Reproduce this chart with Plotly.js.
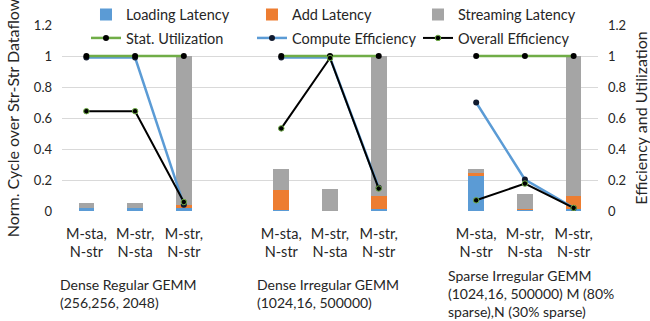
<!DOCTYPE html>
<html>
<head>
<meta charset="utf-8">
<script src="https://cdn.plot.ly/plotly-3.0.1.min.js"></script>
<style>html,body{margin:0;padding:0;background:#fff;}#chart{width:650px;height:321px;}</style>
</head>
<body>
<div id="chart"></div>
<script>
// ---- data ----
var groups = [
  'Dense Regular GEMM<br>(256,256, 2048)',
  'Dense Irregular GEMM<br>(1024,16, 500000)',
  'Sparse Irregular GEMM<br>(1024,16, 500000) M (80%<br>sparse),N (30% sparse)'
];
var configs = ['M-sta,<br>N-str', 'M-str,<br>N-sta', 'M-str,<br>N-str'];

var loadingLatency   = [0.022, 0.022, 0.02,  0.005, 0.0,  0.015, 0.226, 0.007, 0.01];
var addLatency       = [0.0,   0.0,   0.018, 0.13,  0.0,  0.08,  0.022, 0.006, 0.087];
var streamingLatency = [0.032, 0.032, 0.962, 0.135, 0.14, 0.905, 0.026, 0.099, 0.903];

var statUtilization   = [1, 1, 1, 1, 1, 1, 1, 1, 1];
var computeEfficiency = [0.99, 0.99, 0.04, 0.99, 0.99, 0.15, 0.70, 0.203, 0.02];
var overallEfficiency = [0.644, 0.644, 0.058, 0.533, 0.987, 0.145, 0.069, 0.177, 0.02];

var yTicks = [0, 0.2, 0.4, 0.6, 0.8, 1, 1.2];
var yTickText = ['0', '0.2', '0.4', '0.6', '0.8', '1', '1.2'];

// ---- build ----
var nPer = configs.length;
var slot = nPer + 1; // one empty slot between groups
var xs = [], tickText = [];
groups.forEach(function (g, gi) {
  configs.forEach(function (c, ci) { xs.push(gi * slot + ci); tickText.push(c); });
});
function withGaps(vals) {
  var x = [], y = [];
  vals.forEach(function (v, i) {
    if (i > 0 && i % nPer === 0) { x.push(xs[i] - 1); y.push(null); }
    x.push(xs[i]); y.push(v);
  });
  return {x: x, y: y};
}

var FONT = 'Lato, "Open Sans", sans-serif';
var TXT = '#262626';
var bw = 0.32;

var traces = [
  {type: 'bar', name: 'Loading Latency', x: xs, y: loadingLatency, width: bw,
   marker: {color: '#5B9BD5'}, legend: 'legend'},
  {type: 'bar', name: 'Add Latency', x: xs, y: addLatency, width: bw,
   marker: {color: '#ED7D31'}, legend: 'legend'},
  {type: 'bar', name: 'Streaming Latency', x: xs, y: streamingLatency, width: bw,
   marker: {color: '#A5A5A5'}, legend: 'legend'}
];
var c = withGaps(computeEfficiency), s = withGaps(statUtilization), o = withGaps(overallEfficiency);
traces.push({type: 'scatter', mode: 'lines+markers', name: 'Compute Efficiency', x: c.x, y: c.y, yaxis: 'y2',
  connectgaps: false, line: {color: '#5B9BD5', width: 2.5}, marker: {color: '#111a2e', size: 6},
  legend: 'legend2', legendrank: 2});
traces.push({type: 'scatter', mode: 'lines+markers', name: 'Stat. Utilization', x: s.x, y: s.y, yaxis: 'y2',
  connectgaps: false, line: {color: '#70AD47', width: 2.5}, marker: {color: '#000', size: 6},
  legend: 'legend2', legendrank: 1});
traces.push({type: 'scatter', mode: 'lines+markers', name: 'Overall Efficiency', x: o.x, y: o.y, yaxis: 'y2',
  connectgaps: false, line: {color: '#000', width: 2}, marker: {color: '#000', size: 5.5, line: {color: '#70AD47', width: 1}},
  legend: 'legend2', legendrank: 3});

var annotations = [
  {x: -0.0075, text: groups[0], yshift: -63},
  {x: 0.3600, text: groups[1], yshift: -63},
  {x: 0.7160, text: groups[2], yshift: -54}
].map(function (a) {
  return {xref: 'paper', yref: 'paper', x: a.x, y: 0, yshift: a.yshift, xanchor: 'left', yanchor: 'top',
    align: 'left', showarrow: false, text: a.text, font: {family: FONT, size: 14, color: TXT}};
});

function legendCfg(y) {
  return {orientation: 'h', xref: 'container', yref: 'container', x: 0.1323, xanchor: 'left', y: y, yanchor: 'middle',
    traceorder: 'normal', entrywidth: 121, entrywidthmode: 'pixels',
    font: {family: FONT, size: 14.5, color: TXT}, bgcolor: 'rgba(0,0,0,0)'};
}

var layout = {
  width: 650, height: 321,
  margin: {l: 62, r: 52, t: 25, b: 110.3, autoexpand: false},
  paper_bgcolor: '#fff', plot_bgcolor: '#fff',
  font: {family: FONT, color: TXT},
  barmode: 'stack',
  bargap: 0,
  showlegend: true,
  legend: legendCfg(0.9548),
  legend2: legendCfg(0.8816),
  xaxis: {range: [-0.5, xs[xs.length - 1] + 0.5], tickmode: 'array', tickvals: xs, ticktext: tickText,
    showgrid: false, zeroline: false, showline: false, ticks: '', fixedrange: true, ticklabelstandoff: 12,
    tickfont: {family: FONT, size: 14.5, color: TXT}},
  yaxis: {range: [0, 1.2], tickmode: 'array', tickvals: yTicks, ticktext: yTickText,
    showgrid: true, gridcolor: '#D9D9D9', gridwidth: 1, zeroline: false, showline: false,
    ticks: '', ticklabelstandoff: 9,
    tickfont: {family: FONT, size: 13, color: TXT},
    title: {text: 'Norm. Cycle over Str-Str Dataflow', font: {family: FONT, size: 16, color: TXT}, standoff: 10}},
  yaxis2: {range: [0, 1.2], overlaying: 'y', side: 'right', tickmode: 'array', tickvals: yTicks, ticktext: yTickText,
    showgrid: false, zeroline: false, showline: false, ticks: '', ticklabelstandoff: 9,
    tickfont: {family: FONT, size: 13, color: TXT},
    title: {text: 'Efficiency and Utilization', font: {family: FONT, size: 16, color: TXT}, standoff: 10}},
  annotations: annotations
};

Plotly.newPlot('chart', traces, layout, {displayModeBar: false, staticPlot: true});
</script>
</body>
</html>
